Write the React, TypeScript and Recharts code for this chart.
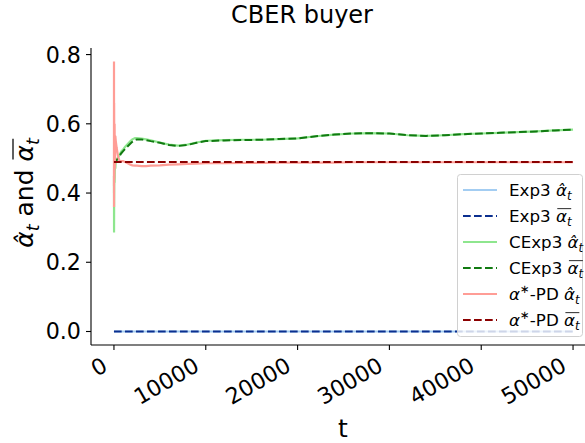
import React, { useLayoutEffect, useRef, useState } from 'react';
import { LineChart, Line, XAxis, YAxis } from 'recharts';

const T = [0, 5, 10, 20, 40, 70, 100, 150, 200, 300,
  450, 600, 800, 1000, 1200, 1500, 1800, 2000, 2300, 2500,
  3000, 3500, 4000, 5000, 6000, 7000, 8000, 9000, 10000,
  12000, 14000, 16000, 18000, 20000,
  22000, 24000, 26000, 28000, 30000,
  32000, 34000, 36000, 38000, 40000,
  42000, 44000, 46000, 48000, 50000];

const EXP3_HAT = [0, 0, 0, 0, 0, 0, 0, 0, 0, 0,
  0, 0, 0, 0, 0, 0, 0, 0, 0, 0,
  0, 0, 0, 0, 0, 0, 0, 0, 0,
  0, 0, 0, 0, 0,
  0, 0, 0, 0, 0,
  0, 0, 0, 0, 0,
  0, 0, 0, 0, 0];

const EXP3_BAR = [0, 0, 0, 0, 0, 0, 0, 0, 0, 0,
  0, 0, 0, 0, 0, 0, 0, 0, 0, 0,
  0, 0, 0, 0, 0, 0, 0, 0, 0,
  0, 0, 0, 0, 0,
  0, 0, 0, 0, 0,
  0, 0, 0, 0, 0,
  0, 0, 0, 0, 0];

const CEXP3_HAT = [0.40, 0.45, 0.286, 0.37, 0.46, 0.43, 0.48, 0.47, 0.495, 0.497,
  0.503, 0.51, 0.52, 0.526, 0.533, 0.542, 0.55, 0.555, 0.559, 0.559,
  0.557, 0.555, 0.552, 0.546, 0.540, 0.537, 0.540, 0.546, 0.551,
  0.553, 0.554, 0.554, 0.556, 0.558,
  0.564, 0.569, 0.572, 0.573, 0.572,
  0.567, 0.565, 0.567, 0.570, 0.572,
  0.574, 0.576, 0.578, 0.581, 0.583];

const CEXP3_BAR = [0.49, 0.49, 0.488, 0.487, 0.488, 0.489, 0.49, 0.491, 0.492, 0.495,
  0.50, 0.507, 0.515, 0.521, 0.527, 0.535, 0.543, 0.548, 0.553, 0.555,
  0.555, 0.553, 0.550, 0.545, 0.539, 0.536, 0.539, 0.545, 0.550,
  0.552, 0.553, 0.554, 0.556, 0.558,
  0.564, 0.569, 0.572, 0.573, 0.572,
  0.567, 0.565, 0.567, 0.570, 0.572,
  0.574, 0.576, 0.578, 0.581, 0.583];

const APD_HAT = [0.42, 0.78, 0.36, 0.66, 0.44, 0.60, 0.47, 0.565, 0.55, 0.53,
  0.505, 0.493, 0.492, 0.492, 0.49, 0.486, 0.482, 0.48, 0.479, 0.479,
  0.478, 0.478, 0.479, 0.48, 0.482, 0.483, 0.484, 0.485, 0.486,
  0.486, 0.487, 0.487, 0.488, 0.488,
  0.488, 0.488, 0.489, 0.489, 0.489,
  0.489, 0.489, 0.489, 0.489, 0.489,
  0.489, 0.489, 0.489, 0.489, 0.489];

const APD_BAR = [0.49, 0.49, 0.49, 0.49, 0.49, 0.49, 0.49, 0.49, 0.49, 0.49,
  0.49, 0.49, 0.49, 0.49, 0.49, 0.49, 0.49, 0.49, 0.49, 0.49,
  0.49, 0.49, 0.49, 0.49, 0.49, 0.49, 0.49, 0.49, 0.49,
  0.49, 0.49, 0.49, 0.49, 0.49,
  0.49, 0.49, 0.49, 0.49, 0.49,
  0.49, 0.49, 0.49, 0.49, 0.49,
  0.49, 0.49, 0.49, 0.49, 0.49];

const X_TICKS = [0, 10000, 20000, 30000, 40000, 50000];
const Y_TICKS = [0, 0.2, 0.4, 0.6, 0.8];

const data = T.map((t, i) => ({
  t,
  exp3Hat: EXP3_HAT[i],
  exp3Bar: EXP3_BAR[i],
  cexp3Hat: CEXP3_HAT[i],
  cexp3Bar: CEXP3_BAR[i],
  apdHat: APD_HAT[i],
  apdBar: APD_BAR[i],
}));

const FONT = '"DejaVu Sans", sans-serif';
const DASH = '7.7 3.3';

const SERIES = [
  { key: 'exp3Hat', prefix: 'Exp3', star: false, kind: 'hat', color: '#a3cdf2', dashed: false, width: 2.2 },
  { key: 'exp3Bar', prefix: 'Exp3', star: false, kind: 'bar', color: '#0b2f8f', dashed: true, width: 2 },
  { key: 'cexp3Hat', prefix: 'CExp3', star: false, kind: 'hat', color: '#8ee68e', dashed: false, width: 2.2 },
  { key: 'cexp3Bar', prefix: 'CExp3', star: false, kind: 'bar', color: '#117a11', dashed: true, width: 2 },
  { key: 'apdHat', prefix: '-PD', star: true, kind: 'hat', color: '#ff9d96', dashed: false, width: 2.2 },
  { key: 'apdBar', prefix: '-PD', star: true, kind: 'bar', color: '#8b0000', dashed: true, width: 2 },
];

function mathAlpha(kind: string, fs: number) {
  const sub = fs * 0.22;
  if (kind === 'hat') {
    return [
      <tspan key="a" fontStyle="italic">{'α\u0302'}</tspan>,
      <tspan key="t" fontStyle="italic" fontSize={fs * 0.7} dy={sub}>t</tspan>,
    ];
  }
  return [
    <tspan key="b" data-bar="1" fontStyle="italic">α</tspan>,
    <tspan key="bt" data-bar="1" fontStyle="italic" fontSize={fs * 0.7} dy={sub}>t</tspan>,
  ];
}

// Text with an overline measured from the rendered glyphs
function MathText({ x, y, fs, anchor, transform, children }: any) {
  const ref = useRef<SVGTextElement>(null);
  const [bar, setBar] = useState<null | { x1: number; x2: number; y: number }>(null);
  useLayoutEffect(() => {
    const el = ref.current;
    if (!el) return;
    const parts = Array.from(el.querySelectorAll('[data-bar]')) as any[];
    if (!parts.length) return;
    let x1 = Infinity, x2 = -Infinity, base = 0;
    parts.forEach((p, idx) => {
      const n = p.getNumberOfChars();
      for (let c = 0; c < n; c++) {
        const ext = p.getExtentOfChar(c);
        x1 = Math.min(x1, ext.x);
        x2 = Math.max(x2, ext.x + ext.width);
        if (idx === 0 && c === 0) base = p.getStartPositionOfChar(0).y;
      }
    });
    const nb = { x1: x1 + fs * 0.08, x2: x2 - fs * 0.02, y: base - fs * 0.8 };
    if (!bar || Math.abs(bar.x1 - nb.x1) > 0.1 || Math.abs(bar.x2 - nb.x2) > 0.1) setBar(nb);
  });
  return (
    <g transform={transform}>
      <text ref={ref} x={x} y={y} textAnchor={anchor} fontSize={fs} fontFamily={FONT} fill="#000">
        {children}
      </text>
      {bar && <line x1={bar.x1} x2={bar.x2} y1={bar.y} y2={bar.y} stroke="#000" strokeWidth={fs * 0.05} />}
    </g>
  );
}

function XTick(props: any) {
  const { x, y, payload } = props;
  const ax = x - 5;
  const ay = y + 20;
  return (
    <text x={ax} y={ay} transform={`rotate(-30 ${ax} ${ay})`} textAnchor="end"
      fontSize={22.2} fontFamily={FONT} fill="#000">{payload.value}</text>
  );
}

function YTick(props: any) {
  const { x, y, payload } = props;
  return (
    <text x={x} y={y} dy="0.36em" textAnchor="end" fontSize={22.2} fontFamily={FONT} fill="#000">
      {Number(payload.value).toFixed(1)}
    </text>
  );
}

function LegendRow({ s, i }: { s: any; i: number }) {
  const cy = 190 + i * 26;
  const fs = 16.7;
  return (
    <g>
      <line x1={463} x2={497} y1={cy} y2={cy} stroke={s.color} strokeWidth={s.width}
        strokeDasharray={s.dashed ? DASH : undefined} />
      <MathText x={509} y={cy + 6} fs={fs} anchor="start">
        {s.star ? [
          <tspan key="sa" fontStyle="italic">α</tspan>,
          <tspan key="ss" fontSize={fs * 0.7} dy={-fs * 0.4}>∗</tspan>,
          <tspan key="sp" dy={fs * 0.4}>{s.prefix + ' '}</tspan>,
        ] : <tspan>{s.prefix + ' '}</tspan>}
        {mathAlpha(s.kind, fs)}
      </MathText>
    </g>
  );
}

export default function App() {
  const ylfs = 25;
  return (
    <div style={{ position: 'absolute', left: 0, top: 0, width: 585, height: 443, overflow: 'hidden', background: '#fff' }}>
      <LineChart width={600} height={443} data={data} margin={{ top: 48, right: 4, bottom: 0, left: 0 }}>
        <XAxis dataKey="t" type="number" domain={[-2500, 52500]} ticks={X_TICKS} height={98}
          axisLine={{ stroke: '#000', strokeWidth: 1.1 }} tickLine={{ stroke: '#000', strokeWidth: 1.1 }}
          tickSize={5} tickMargin={0} tick={<XTick />} interval={0} allowDataOverflow />
        <YAxis type="number" domain={[-0.039, 0.819]} ticks={Y_TICKS} width={91}
          axisLine={{ stroke: '#000', strokeWidth: 1.1 }} tickLine={{ stroke: '#000', strokeWidth: 1.1 }}
          tickSize={5} tickMargin={5} tick={<YTick />} interval={0} allowDataOverflow />
        {SERIES.map((s) => (
          <Line key={s.key} dataKey={s.key} type="linear" dot={false} activeDot={false}
            stroke={s.color} strokeWidth={s.width} strokeDasharray={s.dashed ? DASH : undefined}
            isAnimationActive={false} />
        ))}
      </LineChart>
      <svg width={585} height={443} style={{ position: 'absolute', left: 0, top: 0, pointerEvents: 'none' }}>
        <text x={302} y={23} textAnchor="middle" fontSize={24} fontFamily={FONT} fill="#000">CBER buyer</text>
        <text x={343} y={437} textAnchor="middle" fontSize={25} fontFamily={FONT} fill="#000">t</text>
        <MathText x={0} y={0} fs={ylfs} anchor="middle" transform="translate(33 193) rotate(-90)">
          {mathAlpha('hat', ylfs)}
          <tspan dy={-ylfs * 0.22}>{' and '}</tspan>
          {mathAlpha('bar', ylfs)}
        </MathText>
        <rect x={457.5} y={174.5} width={125} height={162} rx={3} ry={3} fill="#fff" fillOpacity={0.8} stroke="#d0d0d0" strokeWidth={1} />
        {SERIES.map((s, i) => <LegendRow key={s.key} s={s} i={i} />)}
      </svg>
    </div>
  );
}
